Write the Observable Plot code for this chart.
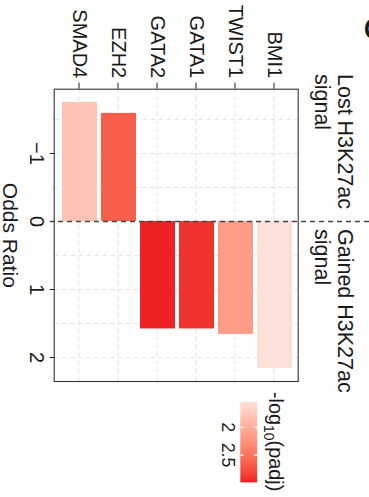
<!DOCTYPE html>
<html><head><meta charset="utf-8">
<script src="https://cdn.jsdelivr.net/npm/d3@7"></script>
<script src="https://cdn.jsdelivr.net/npm/@observablehq/plot@0.6"></script>
<style>
html,body{margin:0;padding:0;background:#fff;}
#outer{position:relative;width:369px;height:497px;overflow:hidden;background:#fff;}
#inner{position:absolute;left:0;top:0;width:497px;height:369px;transform-origin:0 0;transform:translate(369px,0) rotate(90deg);}
#legend{position:absolute;left:386.7px;top:82px;}
</style></head><body>
<div id="outer"><div id="inner"><div id="legend"></div></div></div>
<script>
// ---- data ----
const genes = ["BMI1", "TWIST1", "GATA1", "GATA2", "EZH2", "SMAD4"];
const oddsRatio = [2.16, 1.66, 1.58, 1.58, -1.59, -1.75];
const negLog10Padj = [1.55, 2.17, 2.94, 3.01, 2.67, 1.82];
const xTicks = [-1, 0, 1, 2];
const xGrid = [-1.5, -1, -0.5, 0.5, 1, 1.5, 2];
const legendTicks = [2, 2.5];
const annotationLabels = ["Lost H3K27ac\nsignal", "Gained H3K27ac\nsignal"];
const xLabel = "Odds Ratio";
const panelTag = ["C"];

const data = genes.map((g, i) => ({gene: g, or: oddsRatio[i], p: negLog10Padj[i]}));
const font = "'Liberation Sans', Arial, Helvetica, sans-serif";
const grid = {stroke: "#e2e2e2", strokeWidth: 1.1, strokeDasharray: "4,4"};

const plot = Plot.plot({
  width: 497, height: 369,
  marginLeft: 88.7, marginRight: 116, marginTop: 70.3, marginBottom: 54.7,
  style: {fontFamily: font, fontSize: "20px", color: "#1a1a1a", background: "white"},
  x: {domain: [-1.946, 2.353], ticks: xTicks, tickFormat: d3.format("~f"), tickSize: 5, tickPadding: 5, label: null},
  y: {domain: genes, paddingInner: 0.1, paddingOuter: 0.15, tickSize: 6, tickPadding: 5, label: null},
  color: {type: "linear", domain: [1.547, 3.014], range: ["#fce0d7", "#ee2024"], interpolate: "lab"},
  marks: [
    Plot.ruleX(xGrid, grid),
    Plot.ruleY(genes, grid),
    Plot.barX(data, {x: "or", y: "gene", fill: "p"}),
    Plot.ruleX([0], {stroke: "#444", strokeWidth: 1.5, strokeDasharray: "5,4", insetTop: -70.3, insetBottom: -4.7}),
    Plot.frame({stroke: "#333", strokeWidth: 1.1}),
    Plot.text([annotationLabels[0]], {x: -2.17, text: d => d, frameAnchor: "top", textAnchor: "start", lineAnchor: "bottom", lineHeight: 1.07, dy: -16.3, fontSize: 21.5, fill: "#1a1a1a"}),
    Plot.text([annotationLabels[1]], {x: 0.11, text: d => d, frameAnchor: "top", textAnchor: "start", lineAnchor: "bottom", lineHeight: 1.07, dy: -16.3, fontSize: 21.5, fill: "#1a1a1a"}),
    Plot.text([xLabel], {text: d => d, frameAnchor: "bottom", lineAnchor: "bottom", dy: 51.7, fontSize: 21, fill: "#1a1a1a"}),
    Plot.text(panelTag, {text: d => d, frameAnchor: "top-left", textAnchor: "middle", lineAnchor: "bottom", dx: -61.2, dy: -66.3, fontSize: 32, fontWeight: "bold", fill: "#1a1a1a"})
  ]
});
document.getElementById("inner").prepend(plot);

const leg = plot.legend("color", {
  width: 111, height: 77, marginLeft: 15, marginRight: 15, marginTop: 30, marginBottom: 30,
  ticks: legendTicks, tickSize: 0, label: "-log10(padj)", tickFormat: d => String(d),
  style: {fontFamily: font, fontSize: "18px", color: "#1a1a1a", overflow: "visible", background: "none"}
});
document.getElementById("legend").appendChild(leg);
const svgLeg = leg.tagName.toLowerCase() === "svg" ? leg : leg.querySelector("svg");
svgLeg.querySelectorAll(".tick line").forEach(l => {
  l.setAttribute("y1", -17); l.setAttribute("y2", 0);
  l.setAttribute("stroke", "white"); l.setAttribute("stroke-width", 1.2);
  l.setAttribute("stroke-dasharray", "3.4,10.2,3.4");
});
svgLeg.querySelectorAll(".tick text").forEach(t => { t.setAttribute("y", 6); t.setAttribute("fill", "#1a1a1a"); });
const title = Array.from(svgLeg.children).find(n => n.tagName === "text");
if (title) {
  title.setAttribute("x", 5); title.setAttribute("y", 18);
  title.setAttribute("font-weight", "normal"); title.setAttribute("font-size", 20);
  title.textContent = "";
  const ns = "http://www.w3.org/2000/svg";
  title.appendChild(document.createTextNode("-log"));
  const sub = document.createElementNS(ns, "tspan");
  sub.setAttribute("font-size", 14); sub.setAttribute("dy", 5); sub.textContent = "10";
  title.appendChild(sub);
  const rest = document.createElementNS(ns, "tspan");
  rest.setAttribute("dy", -5); rest.textContent = "(padj)";
  title.appendChild(rest);
}
</script>
</body></html>
